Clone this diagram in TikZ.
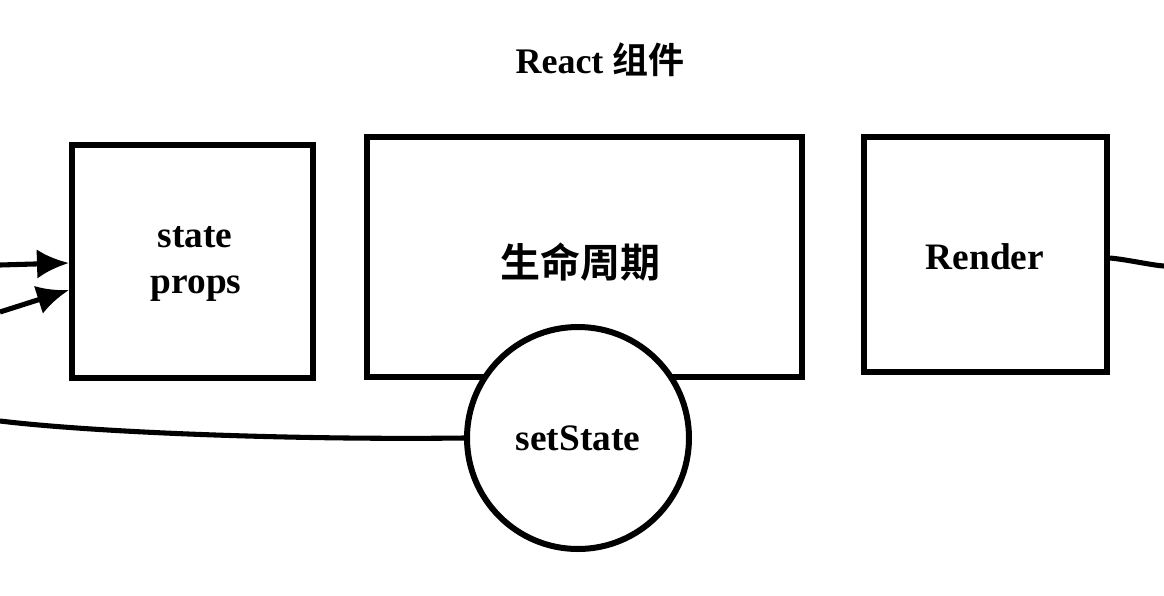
\documentclass[tikz,border=0pt]{standalone}
\usepackage{fontspec}
\setmainfont{Liberation Serif}
\newfontfamily\cjk{Noto Sans CJK SC}[BoldFont={Noto Sans CJK SC Bold}]
\usetikzlibrary{arrows.meta}
\begin{document}
\begin{tikzpicture}[x=0.75pt,y=-0.75pt,
  boxst/.style={draw,line width=4.5pt,rectangle,inner sep=0pt},
  lbl/.style={font=\bfseries\fontsize{28}{32}\selectfont,align=center},
  conn/.style={line width=3.8pt},
  tip/.style={-{Latex[length=24pt,width=22pt]}}]
\useasboundingbox (0,0) rectangle (1164,596);
\fill[white] (0,0) rectangle (1164,596);
\node[font=\bfseries\fontsize{27}{30}\selectfont] (title) at (600,60) {React {\cjk\bfseries 组件}};
\node[boxst,minimum width=241*0.75pt,minimum height=233*0.75pt] (sp) at (192.5,261.5) {};
\node[lbl] at (195,237) {state};
\node[lbl] at (196,289) {props};
\node[boxst,minimum width=435*0.75pt,minimum height=240*0.75pt] (life) at (584.5,256.5) {};
\node[font=\cjk\bfseries\fontsize{30}{34}\selectfont] at (580,262) {生命周期};
\node[boxst,minimum width=243*0.75pt,minimum height=235*0.75pt] (render) at (985.5,254.5) {};
\node[lbl] at (985,257) {Render};
\node[draw,line width=4.5pt,circle,minimum size=222*0.75pt,fill=white,lbl] (ss) at (578,438) {setState};
\coordinate (in1) at (0,265);
\coordinate (in2) at (0,312);
\coordinate (out) at (0,421);
\coordinate (rout) at (1164,266);
\draw[conn,tip] (in1) -- (sp.west |- 0,263);
\draw[conn,tip] (in2) -- (sp.west |- 0,290);
\draw[conn] (ss.west) .. controls (300,440) and (100,433) .. (out);
\draw[conn] (render.east |- 0,258) .. controls (1130,260) and (1150,265) .. (rout);
\end{tikzpicture}
\end{document}
